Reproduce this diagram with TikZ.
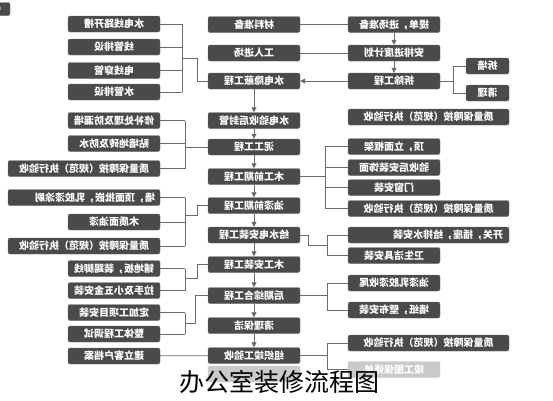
\documentclass[tikz,border=0pt]{standalone}
\usepackage{fontspec}
\usepackage{graphicx}
\newfontfamily\cjk{Noto Sans CJK SC}
\usetikzlibrary{arrows.meta}

\definecolor{hezihui}{HTML}{4A4A4A}
\definecolor{bianhui}{HTML}{707070}
\definecolor{xianhui}{HTML}{6A6A6A}
\definecolor{danhui}{HTML}{CACACA}

% the printed texts are mirrored
\newcommand{\fz}[1]{\reflectbox{#1}}

\begin{document}
\begin{tikzpicture}[x=1pt, y=-1pt,
    hezi/.style={rectangle, rounded corners=2pt, fill=hezihui, draw=bianhui, text=white,
                 font=\cjk\bfseries\fontsize{10}{12}\selectfont, minimum width=92pt, minimum height=16pt, inner sep=1pt},
    zuochang/.style={hezi, minimum width=152pt},
    youchang/.style={hezi, minimum width=161pt},
    xiaohezi/.style={hezi, minimum width=43pt},
    danhezi/.style={hezi, fill=danhui, draw=danhui},
    arrow/.style={-{Triangle[length=5pt, width=5pt]}, draw=xianhui, line width=0.8pt},
    line/.style={draw=xianhui, line width=0.8pt}
]
\useasboundingbox (0,0) rectangle (553,400);

\node[hezi, minimum width=20pt, minimum height=13pt, font=\sffamily\tiny] (jiao) at (0,9) {0};

% center column
\node[hezi] (C1) at (254,24.5) {\fz{材料准备}};
\node[hezi] (C2) at (254,53) {\fz{工人进场}};
\node[hezi] (C3) at (254,81) {\fz{水电隐蔽工程}};
\node[hezi] (C4) at (254,120.5) {\fz{水电验收后封管}};
\node[hezi] (C5) at (254,147) {\fz{泥工工程}};
\node[hezi] (C6) at (254,176.5) {\fz{木工前期工程}};
\node[hezi] (C7) at (254,205.5) {\fz{油漆前期工程}};
\node[hezi] (C8) at (254,235) {\fz{给水电安装工程}};
\node[hezi] (C9) at (254,264.5) {\fz{木工安装工程}};
\node[hezi] (C10) at (254,295.5) {\fz{后期综合工程}};
\node[hezi] (C11) at (254,325.5) {\fz{清理保洁}};
\node[hezi] (C12) at (254,355.5) {\fz{组织竣工验收}};
\node[danhezi] (C13) at (254,374) {};

% left column
\node[hezi] (L1) at (114,24) {\fz{水电线路开槽}};
\node[hezi] (L2) at (114,47) {\fz{线管排设}};
\node[hezi] (L3) at (114,70.5) {\fz{电线穿管}};
\node[hezi] (L4) at (114,92) {\fz{水管排设}};
\node[hezi] (L5) at (114,120.5) {\fz{修补处理及防漏墙}};
\node[hezi] (L6) at (114,143.5) {\fz{贴墙地砖及防水}};
\node[zuochang] (L7) at (84,168.5) {\fz{质量保障按（规范）执行验收}};
\node[zuochang, text width=142pt, align=right] (L8) at (84,197.5) {\fz{墙，顶面批嵌，乳胶漆涂刷}};
\node[hezi] (L9) at (114,222) {\fz{木质面油漆}};
\node[zuochang] (L10) at (84,246) {\fz{质量保障按（规范）执行验收}};
\node[hezi] (L11) at (114,268.5) {\fz{铺地板，装踢脚线}};
\node[hezi] (L12) at (114,290.5) {\fz{拉手及小五金安装}};
\node[hezi] (L13) at (114,312.5) {\fz{定加工项目安装}};
\node[hezi] (L14) at (114,334) {\fz{整体工程调试}};
\node[hezi] (L15) at (114,356) {\fz{建立客户档案}};

% right column
\node[hezi] (R1) at (394,24.5) {\fz{提单，进场准备}};
\node[hezi] (R2) at (394,53) {\fz{安排进度计划}};
\node[hezi] (R3) at (394,81) {\fz{拆除工程}};
\node[xiaohezi] (R3a) at (487.5,66) {\fz{拆墙}};
\node[xiaohezi] (R3b) at (487.5,93) {\fz{清理}};
\node[youchang] (R4) at (428.5,117) {\fz{质量保障按（规范）执行验收}};
\node[hezi] (R5) at (394,146.5) {\fz{顶，立面框架}};
\node[hezi] (R6) at (394,167.5) {\fz{验收后安装饰面}};
\node[hezi] (R7) at (394,187.5) {\fz{门窗安装}};
\node[youchang] (R8) at (428.5,208.5) {\fz{质量保障按（规范）执行验收}};
\node[youchang, text width=149pt, align=right] (R9) at (428.5,235) {\fz{开关，插座，给排水安装}};
\node[hezi] (R10) at (394,255.5) {\fz{卫生洁具安装}};
\node[hezi] (R11) at (394,283) {\fz{油漆乳胶漆收尾}};
\node[hezi] (R12) at (394,310) {\fz{墙纸，壁布安装}};
\node[youchang] (R13) at (428.5,343) {\fz{质量保障按（规范）执行验收}};
\node[danhezi] (R14) at (394,369.5) {\fz{竣工图保修单}};

% joints of the brackets
\coordinate (ka1) at (182,58);
\coordinate (ka1z) at (197,58);
\coordinate (ka2) at (185,147);
\coordinate (ka3) at (185,215);
\coordinate (ka3z) at (197,215);
\coordinate (ka4) at (185,278);
\coordinate (ka4z) at (197,278);
\coordinate (ka5) at (185,323);
\coordinate (ka5z) at (195,323);
\coordinate (kr3) at (453,81);
\coordinate (kr6) at (325,176.5);
\coordinate (kr8a) at (308,235);
\coordinate (kr8) at (327,245);
\coordinate (kr10) at (327,295.5);
\coordinate (kr12) at (327,355.5);

% main line
\draw[line] (R1) -- (C1);
\draw[line] (R2) -- (C2);
\draw[arrow] (R1) -- (R2);
\draw[arrow] (R2) -- (R3);
\draw[arrow] (R3) -- (C3);
\draw[arrow] (C3) -- (C4);
\draw[arrow] (C4) -- (C5);
\draw[arrow] (C5) -- (C6);
\draw[arrow] (C6) -- (C7);
\draw[arrow] (C7) -- (C8);
\draw[arrow] (C8) -- (C9);
\draw[arrow] (C9) -- (C10);
\draw[arrow] (C10) -- (C11);
\draw[arrow] (C11) -- (C12);
\draw[line] (L15) -- (C12);

% left brackets
\foreach \n in {L1,L2,L3,L4} \draw[line] (\n.east) -- (\n.east -| ka1);
\draw[line] (L1.east -| ka1) -- (L4.east -| ka1);
\draw[line] (ka1) -- (ka1z) |- (C3.west);

\foreach \n in {L5,L6,L7} \draw[line] (\n.east) -- (\n.east -| ka2);
\draw[line] (L5.east -| ka2) -- (L7.east -| ka2);
\draw[line] (ka2) -- (C5.west);

\foreach \n in {L8,L9,L10} \draw[line] (\n.east) -- (\n.east -| ka3);
\draw[line] (L8.east -| ka3) -- (L10.east -| ka3);
\draw[line] (ka3) -- (ka3z) |- (C7.west);

\foreach \n in {L11,L12} \draw[line] (\n.east) -- (\n.east -| ka4);
\draw[line] (L11.east -| ka4) -- (L12.east -| ka4);
\draw[line] (ka4) -- (ka4z) |- (C9.west);

\foreach \n in {L13,L14} \draw[line] (\n.east) -- (\n.east -| ka5);
\draw[line] (L13.east -| ka5) -- (L14.east -| ka5);
\draw[line] (ka5) -- (ka5z) |- (C10.west);

% right brackets
\draw[line] (R3.east) -- (kr3);
\draw[line] (R3a.west -| kr3) -- (R3b.west -| kr3);
\foreach \n in {R3a,R3b} \draw[line] (\n.west -| kr3) -- (\n.west);

\draw[line] (C6.east) -- (kr6);
\draw[line] (R5.west -| kr6) -- (R8.west -| kr6);
\foreach \n in {R5,R6,R7,R8} \draw[line] (\n.west -| kr6) -- (\n.west);

\draw[line] (C8.east) -- (kr8a) |- (kr8);
\draw[line] (R9.west -| kr8) -- (R10.west -| kr8);
\foreach \n in {R9,R10} \draw[line] (\n.west -| kr8) -- (\n.west);

\draw[line] (C10.east) -- (kr10);
\draw[line] (R11.west -| kr10) -- (R12.west -| kr10);
\foreach \n in {R11,R12} \draw[line] (\n.west -| kr10) -- (\n.west);

\draw[line] (C12.east) -- (kr12);
\draw[line] (R13.west -| kr12) -- (R14.west -| kr12);
\foreach \n in {R13,R14} \draw[line] (\n.west -| kr12) -- (\n.west);

% title
\node[font=\cjk\fontsize{25}{26}\selectfont, text=black] (biaoti) at (279,382) {办公室装修流程图};

\end{tikzpicture}
\end{document}
